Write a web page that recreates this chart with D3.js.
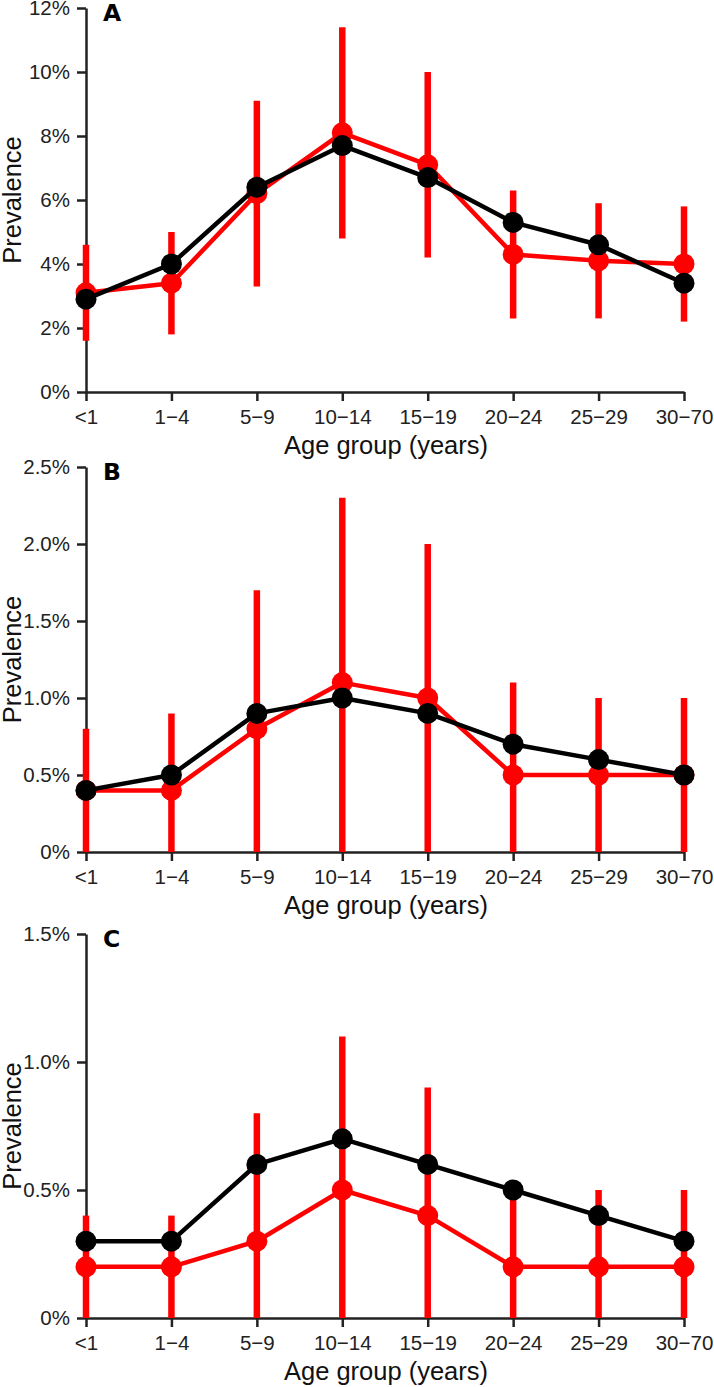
<!DOCTYPE html>
<html>
<head>
<meta charset="utf-8">
<script src="https://cdn.jsdelivr.net/npm/d3@7"></script>
<style>
  html, body { margin: 0; padding: 0; background: #fff; }
  svg { display: block; }
  .tick text { font-family: "Liberation Sans", Arial, sans-serif; font-size: 20.5px; fill: #222; }
</style>
</head>
<body>
<svg id="chart" width="714" height="1387"></svg>
<script>
// ---- Data ----
const ageGroups = ["<1", "1\u22124", "5\u22129", "10\u221214", "15\u221219", "20\u221224", "25\u221229", "30\u221270"];

// Panel A (%)
const redA    = [3.1, 3.4, 6.2, 8.1, 7.1, 4.3, 4.1, 4.0];
const redALo  = [1.6, 1.8, 3.3, 4.8, 4.2, 2.3, 2.3, 2.2];
const redAHi  = [4.6, 5.0, 9.1, 11.4, 10.0, 6.3, 5.9, 5.8];
const blackA  = [2.9, 4.0, 6.4, 7.7, 6.7, 5.3, 4.6, 3.4];
const ticksA  = [0, 2, 4, 6, 8, 10, 12];
const tickLabelsA = ["0%", "2%", "4%", "6%", "8%", "10%", "12%"];

// Panel B (%)
const redB    = [0.4, 0.4, 0.8, 1.1, 1.0, 0.5, 0.5, 0.5];
const redBLo  = [0, 0, 0, 0, 0, 0, 0, 0];
const redBHi  = [0.8, 0.9, 1.7, 2.3, 2.0, 1.1, 1.0, 1.0];
const blackB  = [0.4, 0.5, 0.9, 1.0, 0.9, 0.7, 0.6, 0.5];
const ticksB  = [0, 0.5, 1.0, 1.5, 2.0, 2.5];
const tickLabelsB = ["0%", "0.5%", "1.0%", "1.5%", "2.0%", "2.5%"];

// Panel C (%)
const redC    = [0.2, 0.2, 0.3, 0.5, 0.4, 0.2, 0.2, 0.2];
const redCLo  = [0, 0, 0, 0, 0, 0, 0, 0];
const redCHi  = [0.4, 0.4, 0.8, 1.1, 0.9, 0.5, 0.5, 0.5];
const blackC  = [0.3, 0.3, 0.6, 0.7, 0.6, 0.5, 0.4, 0.3];
const ticksC  = [0, 0.5, 1.0, 1.5];
const tickLabelsC = ["0%", "0.5%", "1.0%", "1.5%"];

const panelLetters = ["A", "B", "C"];
const xTitle = "Age group (years)";
const yTitle = "Prevalence";

// ---- Layout ----
const panels = [
  { letter: panelLetters[0], red: redA, lo: redALo, hi: redAHi, black: blackA, ticks: ticksA, labels: tickLabelsA, top: 8,   bottom: 392 },
  { letter: panelLetters[1], red: redB, lo: redBLo, hi: redBHi, black: blackB, ticks: ticksB, labels: tickLabelsB, top: 467, bottom: 852 },
  { letter: panelLetters[2], red: redC, lo: redCLo, hi: redCHi, black: blackC, ticks: ticksC, labels: tickLabelsC, top: 934, bottom: 1318 }
];

const svg = d3.select("#chart");
const x = d3.scalePoint().domain(ageGroups).range([86, 684]).padding(0);
const RED = "#ff0000", BLACK = "#000000", AXIS = "#222222";

panels.forEach(p => {
  const y = d3.scaleLinear().domain([p.ticks[0], p.ticks[p.ticks.length - 1]]).range([p.bottom, p.top]);
  const g = svg.append("g");

  // axes
  const xAxis = d3.axisBottom(x).tickSize(9).tickSizeOuter(0).tickPadding(8);
  const gx = g.append("g").attr("transform", `translate(0,${p.bottom})`).call(xAxis);
  const yAxis = d3.axisLeft(y).tickValues(p.ticks).tickFormat((d, i) => p.labels[i])
    .tickSize(9).tickSizeOuter(0).tickPadding(7);
  const gy = g.append("g").attr("transform", `translate(86,0)`).call(yAxis);
  [gx, gy].forEach(a => {
    a.select(".domain").attr("stroke", AXIS).attr("stroke-width", 2.5);
    a.selectAll(".tick line").attr("stroke", AXIS).attr("stroke-width", 2.5);
    a.selectAll(".tick text").attr("fill", AXIS);
  });

  // titles
  g.append("text")
    .attr("x", 386).attr("y", p.bottom + 62)
    .attr("text-anchor", "middle")
    .attr("font-family", "Liberation Sans, Arial, sans-serif")
    .attr("font-size", 25.5).attr("fill", "#111")
    .text(xTitle);
  g.append("text")
    .attr("transform", `translate(21,${(p.top + p.bottom) / 2}) rotate(-90)`)
    .attr("text-anchor", "middle")
    .attr("font-family", "Liberation Sans, Arial, sans-serif")
    .attr("font-size", 25.5).attr("fill", "#111")
    .text(yTitle);
  g.append("text")
    .attr("x", 103).attr("y", p.top + 13)
    .attr("font-family", "DejaVu Sans, sans-serif")
    .attr("font-weight", "bold")
    .attr("font-size", 23.5).attr("fill", "#000")
    .text(p.letter);

  // red error bars
  g.selectAll(".err").data(ageGroups).enter().append("line")
    .attr("x1", d => x(d)).attr("x2", d => x(d))
    .attr("y1", (d, i) => y(p.lo[i])).attr("y2", (d, i) => y(p.hi[i]))
    .attr("stroke", RED).attr("stroke-width", 6.5);

  const line = d3.line().x((d, i) => x(ageGroups[i])).y(d => y(d));

  // red series
  g.append("path").datum(p.red).attr("d", line)
    .attr("fill", "none").attr("stroke", RED).attr("stroke-width", 4.5).attr("stroke-linejoin", "round");
  g.selectAll(".rdot").data(p.red).enter().append("circle")
    .attr("cx", (d, i) => x(ageGroups[i])).attr("cy", d => y(d)).attr("r", 10.5).attr("fill", RED);

  // black series
  g.append("path").datum(p.black).attr("d", line)
    .attr("fill", "none").attr("stroke", BLACK).attr("stroke-width", 4.5).attr("stroke-linejoin", "round");
  g.selectAll(".bdot").data(p.black).enter().append("circle")
    .attr("cx", (d, i) => x(ageGroups[i])).attr("cy", d => y(d)).attr("r", 10.5).attr("fill", BLACK);
});
</script>
</body>
</html>
